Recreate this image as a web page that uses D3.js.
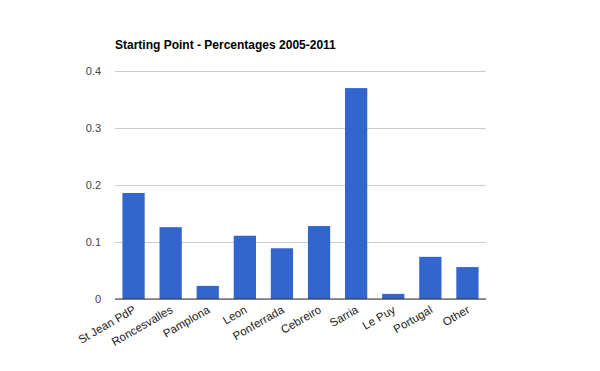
<!DOCTYPE html>
<html>
<head>
<meta charset="utf-8">
<script src="https://cdn.jsdelivr.net/npm/d3@7"></script>
<style>
body { margin: 0; background: #fff; }
text { font-family: Arial, "Liberation Sans", sans-serif; }
</style>
</head>
<body>
<div id="viz"></div>
<script>
// Width and height
var w = 600;
var h = 371;

// data
var categories = ["St Jean PdP", "Roncesvalles", "Pamplona", "Leon", "Ponferrada",
                  "Cebreiro", "Sarria", "Le Puy", "Portugal", "Other"];
var values = [0.186, 0.126, 0.023, 0.111, 0.089, 0.128, 0.370, 0.009, 0.074, 0.056];
var yTicks = [0, 0.1, 0.2, 0.3, 0.4];

var margin = {left: 115, right: 114, top: 71, bottom: 72};

var svg = d3.select("#viz")
            .append("svg")
            .attr("width", w)
            .attr("height", h);

var x = d3.scaleBand()
          .domain(categories)
          .range([margin.left, w - margin.right])
          .paddingInner(0.4)
          .paddingOuter(0.2);

var y = d3.scaleLinear()
          .domain([0, 0.4])
          .range([h - margin.bottom, margin.top]);

// gridlines + tick labels
var yAxis = svg.append("g")
    .attr("transform", "translate(" + margin.left + ",0)")
    .call(d3.axisLeft(y).tickValues(yTicks)
        .tickSize(-(w - margin.left - margin.right))
        .tickPadding(14)
        .tickFormat(function(d) { return d === 0 ? "0" : d3.format(".1f")(d); }));
yAxis.select(".domain").remove();
yAxis.selectAll("line").attr("stroke", "#cccccc");
yAxis.selectAll("text").attr("fill", "#444").style("font-size", "11px");

// bars
svg.selectAll("rect.bar")
   .data(values)
   .enter()
   .append("rect")
   .attr("class", "bar")
   .attr("x", function(d, i) { return x(categories[i]); })
   .attr("width", x.bandwidth())
   .attr("y", function(d) { return y(d); })
   .attr("height", function(d) { return y(0) - y(d); })
   .attr("fill", "#3366cc");

// baseline
svg.append("line")
   .attr("x1", margin.left).attr("x2", w - margin.right)
   .attr("y1", y(0)).attr("y2", y(0))
   .attr("stroke", "#333").attr("stroke-width", 1);

// x labels, rotated
svg.selectAll("text.xlab")
   .data(categories)
   .enter()
   .append("text")
   .attr("class", "xlab")
   .attr("text-anchor", "end")
   .attr("transform", function(d) {
       return "translate(" + (x(d) + x.bandwidth() / 2 + 3) + "," + (y(0) + 13) + ") rotate(-30)";
   })
   .attr("fill", "#222")
   .style("font-size", "11.5px")
   .text(function(d) { return d; });

// title
svg.append("text")
   .attr("x", margin.left)
   .attr("y", 49)
   .style("font-size", "12px")
   .style("font-weight", "bold")
   .attr("fill", "#000")
   .text("Starting Point - Percentages 2005-2011");
</script>
</body>
</html>
